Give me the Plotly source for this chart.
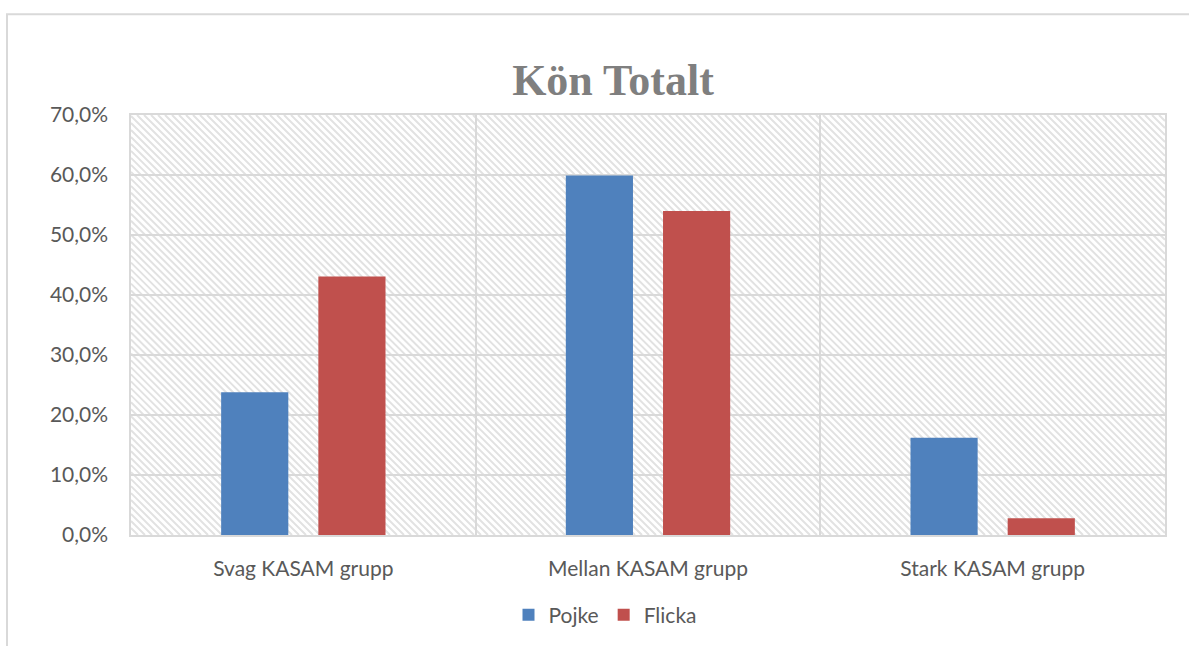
import plotly.graph_objects as go

categories = ["Svag KASAM grupp", "Mellan KASAM grupp", "Stark KASAM grupp"]
pojke = [0.238, 0.599, 0.162]
flicka = [0.431, 0.540, 0.028]
title_text = "Kön Totalt"

W_FIG, H_FIG = 1189, 646
L, R, T, B = 131, 24, 115, 110
PW = W_FIG - L - R
PH = H_FIG - T - B


def to_paper(X, Y):
    return (X - L) / PW, (H_FIG - B - Y) / PH


# diagonal hatch background ("\\" direction) for the plot area
x0p, x1p, y0p, y1p = L, W_FIG - R, T, H_FIG - B
segs = []
step = 7
c = x0p - y1p
while c <= x1p - y0p:
    pts = []
    for Y in (y0p, y1p):
        X = c + Y
        if x0p <= X <= x1p:
            pts.append((X, Y))
    for X in (x0p, x1p):
        Y = X - c
        if y0p <= Y <= y1p:
            pts.append((X, Y))
    pts = sorted(set(pts))
    if len(pts) >= 2:
        a = to_paper(*pts[0])
        b = to_paper(*pts[-1])
        segs.append(f"M{a[0]:.5f},{a[1]:.5f}L{b[0]:.5f},{b[1]:.5f}")
    c += step
hatch_path = "".join(segs)

fig = go.Figure()
fig.add_trace(go.Bar(name="Pojke", x=categories, y=pojke,
                     marker=dict(color="#4f81bd", line=dict(width=0))))
fig.add_trace(go.Bar(name="Flicka", x=categories, y=flicka,
                     marker=dict(color="#c0504d", line=dict(width=0))))

ox0, oy0 = to_paper(7, 14)
ox1, oy1 = to_paper(1230, 680)

fig.update_layout(
    width=W_FIG, height=H_FIG,
    margin=dict(l=L, r=R, t=T, b=B),
    paper_bgcolor="white", plot_bgcolor="white",
    separators=", ",
    barmode="group", bargap=0.436, bargroupgap=0.309,
    font=dict(family="Lato, Open Sans, sans-serif", size=21, color="#595959"),
    title=dict(text=f"<b>{title_text}</b>", x=613 / W_FIG, xanchor="center",
               y=1 - 80 / H_FIG, yanchor="middle", yref="container",
               font=dict(family="Liberation Serif, DejaVu Serif, serif", size=44, color="#7f7f7f")),
    xaxis=dict(type="category", tickson="boundaries", showgrid=True, gridcolor="#d9d9d9", gridwidth=1.5,
               showline=True, linecolor="#d9d9d9", linewidth=1.5, mirror=True,
               ticks="", ticklabelstandoff=14, tickfont=dict(size=21, color="#595959")),
    yaxis=dict(range=[0, 0.7], dtick=0.1, tickformat=".1%", showgrid=True, gridcolor="#d9d9d9", gridwidth=1.5,
               showline=True, linecolor="#d9d9d9", linewidth=1.5, mirror=True, zeroline=False,
               ticks="", ticklabelstandoff=17, tickfont=dict(size=21, color="#595959")),
    legend=dict(orientation="h", x=(605 - L) / PW, xanchor="center", y=(H_FIG - B - 615) / PH,
                yanchor="middle", font=dict(size=21, color="#595959"), itemwidth=30,
                traceorder="normal"),
    shapes=[
        dict(type="path", path=hatch_path, xref="paper", yref="paper", layer="below",
             line=dict(color="#e2e2e2", width=2)),
        dict(type="rect", xref="paper", yref="paper", x0=ox0, y0=oy0, x1=ox1, y1=oy1,
             line=dict(color="#d9d9d9", width=2), layer="below"),
    ],
)

fig.write_html("out.html")
